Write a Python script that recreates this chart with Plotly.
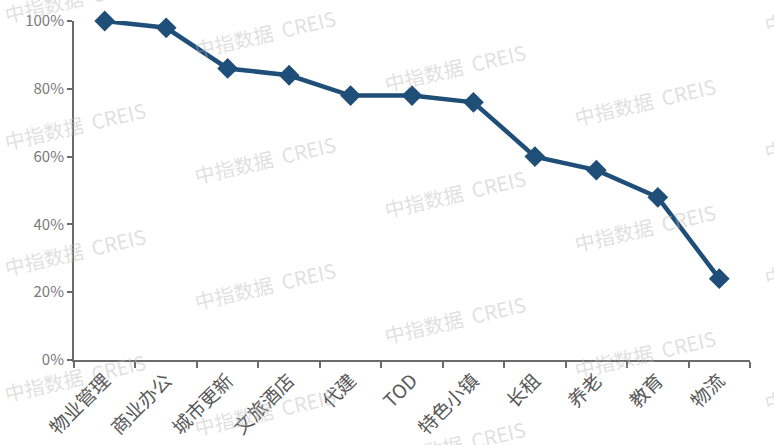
import plotly.graph_objects as go

categories = ["物业管理", "商业办公", "城市更新", "文旅酒店", "代建", "TOD",
              "特色小镇", "长租", "养老", "教育", "物流"]
values = [100, 98, 86, 84, 78, 78, 76, 60, 56, 48, 24]
y_ticks = [0, 20, 40, 60, 80, 100]
y_tick_labels = ["0%", "20%", "40%", "60%", "80%", "100%"]
watermark = "中指数据  CREIS"

W, H = 774, 445
L, R, T, B = 74, 24, 21, 85
FONT = "Noto Sans CJK SC, Noto Sans, sans-serif"

fig = go.Figure()
fig.add_trace(go.Scatter(
    x=categories, y=values, mode="lines+markers",
    line=dict(color="#1f4e79", width=4.5),
    marker=dict(symbol="diamond", size=16, color="#1f4e79"),
    cliponaxis=False, showlegend=False,
))

# watermark grid (pixel positions converted to paper coords)
pw, ph = W - L - R, H - T - B
anns = []
for j in range(5):
    for i in range(-2, 4):
        px = 75 + 190 * j
        py = 125 + 34 * j + 126 * i
        if py < -30 or py > H + 30:
            continue
        anns.append(dict(
            x=(px - L) / pw, y=(H - B - py) / ph, xref="paper", yref="paper",
            text=watermark, showarrow=False, textangle=-13,
            xanchor="center", yanchor="middle",
            font=dict(family=FONT, size=20, color="rgba(185,185,185,0.45)"),
        ))

fig.update_layout(
    width=W, height=H,
    margin=dict(l=L, r=R, t=T, b=B, autoexpand=False),
    plot_bgcolor="white", paper_bgcolor="white",
    annotations=anns,
    xaxis=dict(
        type="category", tickson="boundaries", ticks="outside", ticklen=6,
        tickwidth=2, tickcolor="#6b6b6b", automargin=False,
        showline=True, linecolor="#6b6b6b", linewidth=2,
        showgrid=False, tickangle=-45,
        tickfont=dict(family=FONT, size=19, color="#595959"),
        range=[-0.5, 10.5],
    ),
    yaxis=dict(
        range=[0, 100], tickvals=y_ticks, ticktext=y_tick_labels,
        ticks="outside", ticklen=5, tickwidth=2, tickcolor="#6b6b6b",
        showline=True, linecolor="#6b6b6b", linewidth=2, automargin=False,
        showgrid=False, zeroline=False,
        tickfont=dict(family=FONT, size=15, color="#7a7a7a"),
    ),
)

fig.write_html("out.html", config={"displayModeBar": False},
               post_script="document.body.style.margin='0px';"
                           "document.body.style.overflow='hidden';")
